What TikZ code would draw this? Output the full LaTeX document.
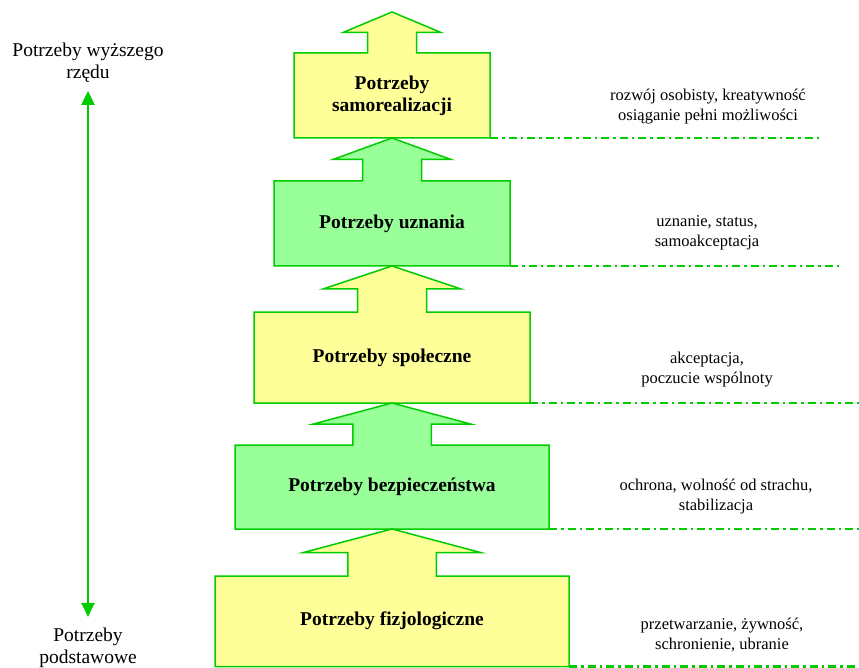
\documentclass[tikz,border=0pt]{standalone}
\usepackage{fontspec}
\setmainfont{Liberation Serif}
\usetikzlibrary{arrows.meta}
\definecolor{edge green}{HTML}{00CC00}
\definecolor{pale yellow}{HTML}{FFFF99}
\definecolor{pale green}{HTML}{99FF99}
\colorlet{block edge}{edge green}
\tikzset{block/.style={draw=block edge, line width=1.5pt, line join=miter},
    yellowblock/.style={block, fill=pale yellow},
    greenblock/.style={block, fill=pale green},
    title/.style={font=\fontsize{19.5}{22}\selectfont\bfseries, align=center, inner sep=0pt},
    note/.style={font=\fontsize{16.5}{20}\selectfont, align=center, inner sep=0pt},
    level/.style={draw=block edge, line width=2.5pt, dash pattern=on 8pt off 4pt on 2.5pt off 4pt},
    side label/.style={font=\fontsize{19.5}{22}\selectfont, align=center, inner sep=0pt},
    side arrow/.style={draw=block edge, line width=2pt,
        {Triangle[width=13pt,length=14pt]}-{Triangle[width=13pt,length=14pt]}}}
% #1 style, #2 name, #3 tip, #4 body top, #5 body bottom, #6 half width
\newcommand\needblock[6]{%
    \draw[#1] (392,#3) -- ({392+#6/2},{(#3+#4)/2}) -- ({392+#6/4},{(#3+#4)/2})
        -- ({392+#6/4},#4) -- ({392+#6},#4) -- ({392+#6},#5) coordinate (#2-se)
        -- ({392-#6},#5) -- ({392-#6},#4) -- ({392-#6/4},#4)
        -- ({392-#6/4},{(#3+#4)/2}) -- ({392-#6/2},{(#3+#4)/2}) -- cycle;
    \coordinate (#2) at (392,{(#4+#5)/2});}

\begin{document}
\begin{tikzpicture}[x=1pt, y=-1pt]
    \useasboundingbox (0,0) rectangle (859,668);
    \clip (0,0) rectangle (859,668);
    \needblock{yellowblock}{self}{12}{53}{138}{98}
    \needblock{greenblock}{esteem}{138}{181}{266}{118}
    \needblock{yellowblock}{social}{266}{312}{403}{138}
    \needblock{greenblock}{safety}{403}{445}{529}{157}
    \needblock{yellowblock}{body}{529}{576}{666.5}{177}
    \node[title] (self title) at (self) {Potrzeby\\samorealizacji};
    \node[title] (esteem title) at (esteem) {Potrzeby uznania};
    \node[title] (social title) at (social) {Potrzeby społeczne};
    \node[title] (safety title) at (safety) {Potrzeby bezpieczeństwa};
    \node[title] (body title) at (body) {Potrzeby fizjologiczne};
    \draw[level] (self-se) -- ++(330,0);
    \draw[level] (esteem-se) -- ++(330,0);
    \draw[level] (social-se) -- ++(330,0);
    \draw[level] (safety-se) -- ++(330,0);
    \draw[level] (body-se) -- ++(330,0);
    \node[note] (self note) at (708,107) {rozwój osobisty, kreatywność\\osiąganie pełni możliwości};
    \node[note] (esteem note) at (707,233) {uznanie, status,\\samoakceptacja};
    \node[note] (social note) at (707,370) {akceptacja,\\poczucie wspólnoty};
    \node[note] (safety note) at (716,497) {ochrona, wolność od strachu,\\stabilizacja};
    \node[note] (body note) at (722,635) {przetwarzanie, żywność,\\schronienie, ubranie};
    \node[side label] (higher) at (88,63) {Potrzeby wyższego\\rzędu};
    \node[side label] (basic) at (88,648) {Potrzeby\\podstawowe};
    \draw[side arrow, shorten <=8pt, shorten >=11pt] (higher.south) -- (basic.north);
\end{tikzpicture}
\end{document}
